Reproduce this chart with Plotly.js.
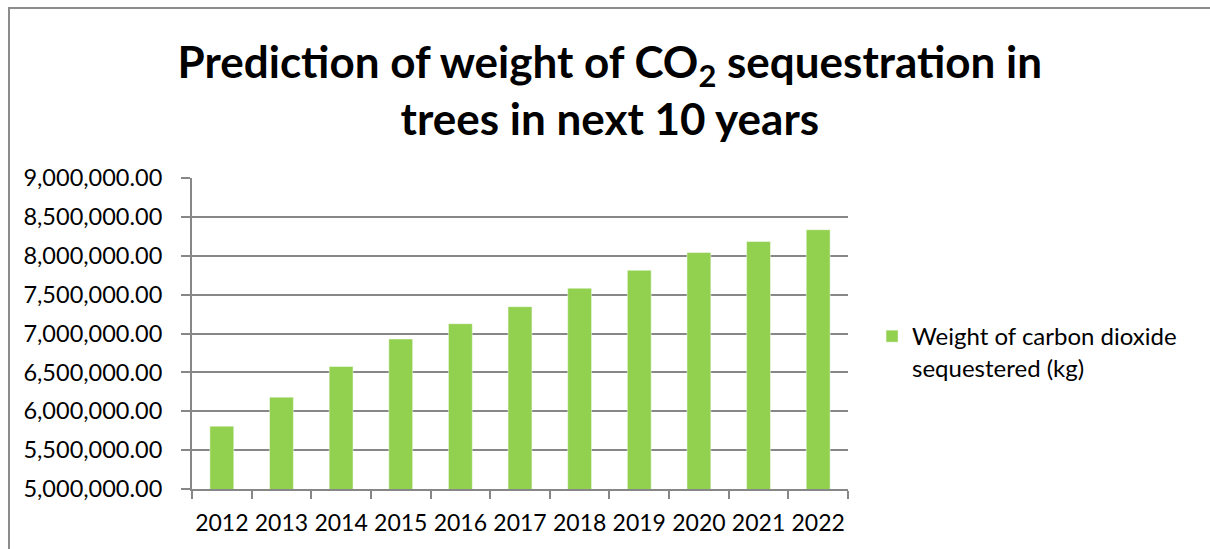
<!DOCTYPE html>
<html>
<head>
<meta charset="utf-8">
<script src="https://cdn.plot.ly/plotly-3.0.1.min.js"></script>
<style>
  html, body { margin: 0; padding: 0; background: #ffffff; }
  #wrap { position: relative; width: 1210px; height: 549px; overflow: hidden; }
  #chart { position: absolute; left: 0; top: 0; width: 1210px; height: 549px; }
  /* chart-area frame: only its top and left edges are visible */
  #frame { position: absolute; left: 8px; top: 7px; width: 1400px; height: 800px;
           border-left: 2px solid #8c8c8c; border-top: 2px solid #8c8c8c;
           pointer-events: none; z-index: 5; }
</style>
</head>
<body>
<div id="wrap">
  <div id="chart"></div>
  <div id="frame"></div>
</div>
<script>
// Predicted CO2 sequestered by trees, per year (kg)
const years = ["2012", "2013", "2014", "2015", "2016", "2017", "2018", "2019", "2020", "2021", "2022"];
const co2Kg = [5808000, 6181000, 6576000, 6929000, 7126000, 7345000, 7582000, 7813000, 8041000, 8183000, 8335000];
const seriesName = "Weight of carbon dioxide<br>sequestered (kg)";
const chartTitle = "Prediction of weight of CO<sub>2</sub> sequestration in<br>trees in next 10 years";

const FONT = "Lato, 'Open Sans', sans-serif";
const GRID = "#878787";

const trace = {
  type: "bar",
  x: years,
  y: co2Kg,
  name: seriesName,
  showlegend: true,
  marker: { color: "#92D050", line: { color: "rgba(255,255,255,0.45)", width: 1 } },
  hoverinfo: "x+y"
};

const layout = {
  width: 1210,
  height: 549,
  paper_bgcolor: "#ffffff",
  plot_bgcolor: "#ffffff",
  margin: { l: 192, r: 362, t: 178, b: 60, pad: 0 },
  bargap: 0.6,
  title: {
    text: chartTitle,
    x: 0.504, xref: "container", xanchor: "center",
    y: 0.858, yref: "container", yanchor: "top",
    font: { family: FONT, size: 44, color: "#000000", weight: "bold" }
  },
  font: { family: FONT, color: "#000000" },
  xaxis: {
    type: "category",
    showgrid: false,
    showline: true, linecolor: GRID, linewidth: 2,
    ticks: "outside", tickson: "boundaries", ticklen: 8, tickwidth: 2, tickcolor: GRID,
    tickangle: 0,
    ticklabelstandoff: 12,
    tickfont: { family: FONT, size: 23, color: "#000000" },
    fixedrange: true
  },
  yaxis: {
    range: [5000000, 9000000],
    dtick: 500000,
    tick0: 5000000,
    tickformat: ",.2f",
    showgrid: true, gridcolor: GRID, gridwidth: 2,
    zeroline: false,
    showline: true, linecolor: GRID, linewidth: 2,
    ticks: "outside", ticklen: 9, tickwidth: 2, tickcolor: GRID,
    ticklabelstandoff: 14,
    tickfont: { family: FONT, size: 23.5, color: "#000000" },
    fixedrange: true
  },
  legend: {
    xref: "container", yref: "container",
    x: 0.7207, xanchor: "left",
    y: 0.428, yanchor: "top",
    valign: "top",
    bgcolor: "rgba(0,0,0,0)",
    font: { family: FONT, size: 24, color: "#000000" },
    itemwidth: 30
  }
};

Plotly.newPlot("chart", [trace], layout, { displayModeBar: false, staticPlot: true });
</script>
</body>
</html>
